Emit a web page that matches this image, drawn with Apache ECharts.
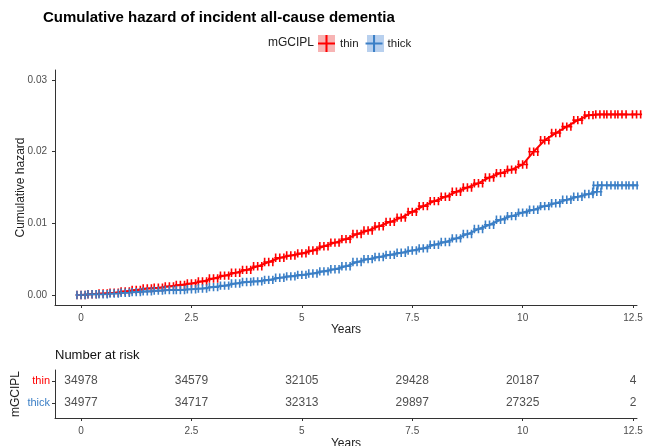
<!DOCTYPE html>
<html>
<head>
<meta charset="utf-8">
<script src="https://cdn.jsdelivr.net/npm/echarts@6/dist/echarts.min.js"></script>
<style>
  html, body { margin: 0; padding: 0; background: #fff; }
  #chart { width: 653px; height: 446px; }
</style>
</head>
<body>
<div id="chart"></div>
<script>
// cumulative hazard (years, hazard)
const thinTimes = [0, 0.25, 0.5, 0.75, 1, 1.25, 1.5, 1.75, 2, 2.25, 2.5, 2.75, 3, 3.25, 3.5, 3.75, 4, 4.25, 4.5, 4.75,
    5, 5.25, 5.5, 5.75, 6, 6.25, 6.5, 6.75, 7, 7.25, 7.5, 7.75, 8, 8.25, 8.5, 8.75, 9, 9.25, 9.5, 9.75,
    10, 10.25, 10.5, 10.75, 11, 11.25, 11.5, 11.75, 12, 12.25, 12.58];
const thinHazard = [0, 0.0001, 0.0002, 0.0003, 0.0005, 0.0007, 0.0009, 0.0010, 0.0012, 0.0014, 0.0016, 0.0019, 0.0023, 0.0027, 0.0031, 0.0035, 0.0040, 0.0046, 0.0052, 0.0055,
    0.0058, 0.0062, 0.0068, 0.0073, 0.0078, 0.0085, 0.0090, 0.0096, 0.0102, 0.0108, 0.0116, 0.0124, 0.0131, 0.0137, 0.0144, 0.0150, 0.0156, 0.0164, 0.0170, 0.0175,
    0.0182, 0.0200, 0.0216, 0.0226, 0.0235, 0.0244, 0.0251, 0.0252, 0.0252, 0.0252, 0.0252];

const thickTimes = [0, 0.25, 0.5, 0.75, 1, 1.25, 1.5, 1.75, 2, 2.25, 2.5, 2.75, 3, 3.25, 3.5, 3.75, 4, 4.25, 4.5, 4.75,
    5, 5.25, 5.5, 5.75, 6, 6.25, 6.5, 6.75, 7, 7.25, 7.5, 7.75, 8, 8.25, 8.5, 8.75, 9, 9.25, 9.5, 9.75,
    10, 10.25, 10.5, 10.75, 11, 11.25, 11.5, 11.68, 11.7, 12, 12.25, 12.5];
const thickHazard = [0, 0.0001, 0.0001, 0.0002, 0.0003, 0.0004, 0.0005, 0.0006, 0.0007, 0.0007, 0.0008, 0.0009, 0.0011, 0.0013, 0.0016, 0.0018, 0.0019, 0.0021, 0.0024, 0.0026,
    0.0028, 0.0030, 0.0033, 0.0036, 0.0040, 0.0046, 0.0050, 0.0053, 0.0056, 0.0059, 0.0062, 0.0065, 0.0070, 0.0074, 0.0079, 0.0085, 0.0092, 0.0098, 0.0105, 0.0110,
    0.0115, 0.0119, 0.0124, 0.0128, 0.0133, 0.0137, 0.0141, 0.0144, 0.0153, 0.0153, 0.0153, 0.0153];
const thickTail = [12.66, 0.0153];

// number at risk table
const riskTimes = [0, 2.5, 5, 7.5, 10, 12.5];
const thinRisk = [34978, 34579, 32105, 29428, 20187, 4];
const thickRisk = [34977, 34717, 32313, 29897, 27325, 2];

const xTicks = [0, 2.5, 5, 7.5, 10, 12.5];
const yTicks = [0, 0.01, 0.02, 0.03];

const RED = '#ff0000';
const BLUE = '#3b7fc6';
const FONT = 'Liberation Sans, Arial, sans-serif';

// three small ticks on a bar, so the censor marks look as dense as in the plot
const censorMark = 'path://M0,3.4h11v1.6h-11z M0.6,0h1.6v8.4h-1.6z M4.7,0h1.6v8.4h-1.6z M8.8,0h1.6v8.4h-1.6z';

const zip = (a, b) => a.map((t, i) => [t, b[i]]);

const axisTick = { lineStyle: { color: '#333' }, length: 3 };
const axisLabel = { color: '#4d4d4d', fontSize: 10, fontFamily: FONT };

function xAxisFor (grid, gap) {
    return {
        type: 'value', gridIndex: grid, min: -0.59, max: 12.59,
        name: 'Years', nameLocation: 'middle', nameGap: gap, nameMoveOverlap: false,
        nameTextStyle: { fontSize: 12, color: '#222', fontFamily: FONT },
        axisLine: { onZero: false, lineStyle: { color: '#333', width: 1 } },
        axisTick: Object.assign({ customValues: xTicks }, axisTick),
        axisLabel: Object.assign({ customValues: xTicks, formatter: v => String(v) }, axisLabel),
        splitLine: { show: false }
    };
}

const chart = echarts.init(document.getElementById('chart'));
chart.setOption({
    animation: false,
    textStyle: { fontFamily: FONT },
    title: [{
        text: 'Cumulative hazard of incident all-cause dementia',
        left: 38, top: 5,
        textStyle: { fontSize: 15, fontWeight: 'bold', color: '#000', fontFamily: FONT }
    }, {
        text: 'Number at risk',
        left: 50, top: 344,
        textStyle: { fontSize: 13, fontWeight: 'normal', color: '#111', fontFamily: FONT }
    }],
    legend: {
        data: ['thin', 'thick'],
        left: 318, top: 35, padding: 0,
        itemWidth: 17, itemHeight: 17, itemGap: 7,
        icon: 'path://M1,7.6h15v1.8h-15z M7.6,1h1.8v15h-1.8z',
        textStyle: { fontSize: 11.5, color: '#222', fontFamily: FONT }
    },
    graphic: [
        { type: 'text', left: 268, top: 37, style: { text: 'mGCIPL', fontSize: 12, fill: '#222', fontFamily: FONT } },
        { type: 'rect', left: 318, top: 35, z: -1, shape: { width: 17, height: 17 }, style: { fill: '#f7b4b4' } },
        { type: 'rect', left: 367, top: 35, z: -1, shape: { width: 17, height: 17 }, style: { fill: '#b8d0ee' } }
    ],
    grid: [
        { left: 55, right: 16, top: 70, height: 235, outerBoundsMode: 'none' },
        { left: 55, right: 16, top: 370, height: 48, outerBoundsMode: 'none' }
    ],
    xAxis: [xAxisFor(0, 19), xAxisFor(1, 20)],
    yAxis: [{
        type: 'value', gridIndex: 0, min: -0.0014, max: 0.0314,
        name: 'Cumulative hazard', nameLocation: 'middle', nameGap: 28, nameRotate: 90, nameMoveOverlap: false,
        nameTextStyle: { fontSize: 12, color: '#222', fontFamily: FONT },
        axisLine: { show: true, onZero: false, lineStyle: { color: '#333', width: 1 } },
        axisTick: Object.assign({ show: true, customValues: yTicks }, axisTick),
        axisLabel: Object.assign({ customValues: yTicks, formatter: v => v.toFixed(2) }, axisLabel),
        splitLine: { show: false }
    }, {
        type: 'value', gridIndex: 1, min: 0.32, max: 2.5,
        name: 'mGCIPL', nameLocation: 'middle', nameGap: 33, nameRotate: 90, nameMoveOverlap: false,
        nameTextStyle: { fontSize: 12, color: '#222', fontFamily: FONT },
        axisLine: { show: true, onZero: false, lineStyle: { color: '#333', width: 1 } },
        axisTick: Object.assign({ show: true, customValues: [1, 2] }, axisTick),
        axisLabel: {
            customValues: [1, 2], fontSize: 11, fontFamily: FONT, margin: 5,
            formatter: v => v === 2 ? '{r|thin}' : '{b|thick}',
            rich: { r: { color: RED, fontSize: 11 }, b: { color: BLUE, fontSize: 11 } }
        },
        splitLine: { show: false }
    }],
    series: [{
        name: 'thin', type: 'line', xAxisIndex: 0, yAxisIndex: 0,
        data: zip(thinTimes, thinHazard),
        lineStyle: { color: RED, width: 2 },
        itemStyle: { color: RED },
        symbol: censorMark, symbolSize: [11, 8.4], showAllSymbol: true
    }, {
        name: 'thick', type: 'line', xAxisIndex: 0, yAxisIndex: 0,
        data: zip(thickTimes, thickHazard).concat([thickTail]),
        lineStyle: { color: BLUE, width: 2 },
        itemStyle: { color: BLUE },
        symbol: censorMark, symbolSize: [11, 8.4], showAllSymbol: true
    }, {
        type: 'scatter', xAxisIndex: 1, yAxisIndex: 1, symbolSize: 0,
        data: riskTimes.map((t, i) => ({ value: [t, 2], n: thinRisk[i] })),
        label: { show: true, position: 'inside', fontSize: 12, color: '#222', fontFamily: FONT,
            formatter: p => String(p.data.n) }
    }, {
        type: 'scatter', xAxisIndex: 1, yAxisIndex: 1, symbolSize: 0,
        data: riskTimes.map((t, i) => ({ value: [t, 1], n: thickRisk[i] })),
        label: { show: true, position: 'inside', fontSize: 12, color: '#222', fontFamily: FONT,
            formatter: p => String(p.data.n) }
    }]
});
</script>
</body>
</html>
